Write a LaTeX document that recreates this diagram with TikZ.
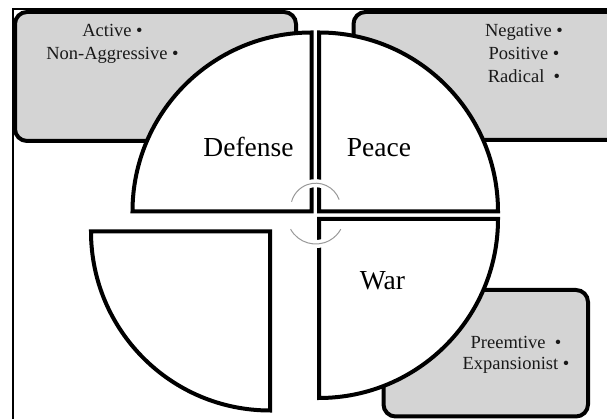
\documentclass[tikz,border=0pt]{standalone}
\usepackage{fontspec}
\setmainfont{Liberation Serif}
\begin{document}
\begin{tikzpicture}[x=1pt,y=1pt,
  box/.style={fill=BoxGray, draw=black, line width=4pt, rounded corners=12pt},
  quarter/.style={fill=white, draw=black, line width=4pt},
  itemtext/.style={anchor=base, font=\fontsize{18.5}{22}\selectfont, text=black!90},
  partname/.style={anchor=base, font=\fontsize{27.5}{32}\selectfont}]
\definecolor{BoxGray}{RGB}{212, 212, 212}
\useasboundingbox (0,0) rectangle (607,419);
\clip (0,0) rectangle (607,419);
% frame
\draw[line width=1.3pt] (13,0) -- (13,410) -- (607,410);
% boxes behind the quarters
\draw[box] (15,407) rectangle (296,278);
\draw[box] (353.5,407) rectangle (625,279);
\draw[box] (383.5,129) rectangle (588,2.5);
% the four quarters
\foreach \cx/\cy/\a in {311.5/207.5/90, 319/207.5/0, 319/200/270, 270/187.5/180}{
\draw[quarter] (\cx,\cy) -- ++(\a:179) arc[start angle=\a, delta angle=90, radius=179] -- cycle;
}
% arcs in the middle
\foreach \cy/\r/\s/\e in {210.8/25/20/165, 203.7/28.7/209/331}{
\draw[white, line width=8pt] (315.7,\cy) ++(\s:\r) arc[start angle=\s, end angle=\e, radius=\r];
\draw[black!40, line width=1pt] (315.7,\cy) ++(\s:\r) arc[start angle=\s, end angle=\e, radius=\r];
}
% texts
\node[itemtext] (active) at (112.5,382) {Active •};
\node[itemtext] (nonaggr) at (112.5,359) {Non-Aggressive •};
\node[itemtext] (negative) at (524,382) {Negative •};
\node[itemtext] (positive) at (524,359.5) {Positive •};
\node[itemtext] (radical) at (524,336) {Radical \ •};
\node[itemtext] (preemtive) at (516,70.7) {Preemtive \ •};
\node[itemtext] (expansionist) at (516,49) {Expansionist •};
\node[partname] (defense) at (248.5,262.3) {Defense};
\node[partname] (peace) at (379,262.3) {Peace};
\node[partname] (war) at (382.5,129.7) {War};
\end{tikzpicture}
\end{document}
